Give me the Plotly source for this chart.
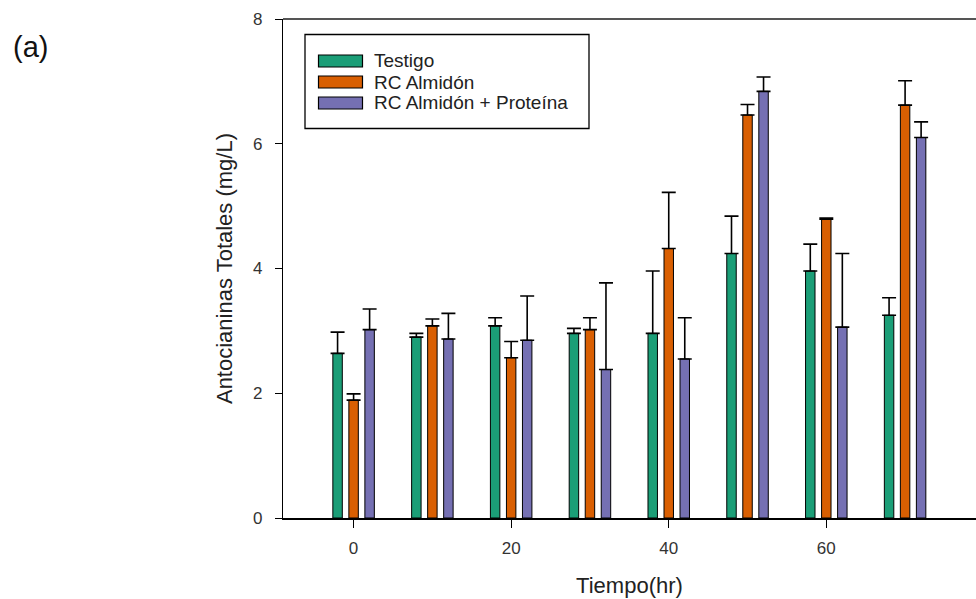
import plotly.graph_objects as go

tiempo = [0, 10, 20, 30, 40, 50, 60, 70]
testigo = [2.64, 2.90, 3.08, 2.96, 2.96, 4.24, 3.96, 3.25]
testigo_err = [0.34, 0.06, 0.13, 0.08, 1.00, 0.60, 0.43, 0.28]
almidon = [1.89, 3.08, 2.57, 3.02, 4.32, 6.46, 4.79, 6.62]
almidon_err = [0.10, 0.11, 0.26, 0.19, 0.90, 0.17, 0.02, 0.39]
proteina = [3.02, 2.87, 2.85, 2.38, 2.55, 6.84, 3.06, 6.10]
proteina_err = [0.33, 0.41, 0.71, 1.39, 0.66, 0.23, 1.18, 0.25]
x_ticks = [0, 20, 40, 60]
y_ticks = [0, 2, 4, 6, 8]

series = [
    ("Testigo", testigo, testigo_err, "#1b9e77"),
    ("RC Almidón", almidon, almidon_err, "#d95f02"),
    ("RC Almidón + Proteína", proteina, proteina_err, "#7570b3"),
]

W, H = 976, 599
L, T, B, R = 283, 19, 81, 0
PW, PH = W - L - R, H - T - B


def px(xp):
    return (xp - L) / PW


def py(yp):
    return 1 - (yp - T) / PH


fig = go.Figure()
for name, vals, errs, col in series:
    fig.add_trace(go.Bar(
        x=tiempo, y=vals, name=name,
        marker=dict(color=col, line=dict(color="black", width=1)),
        error_y=dict(type="data", symmetric=False, array=errs,
                     arrayminus=[0] * len(errs), color="black",
                     thickness=1.6, width=7),
    ))

font_family = "Liberation Sans, Arial, sans-serif"

# manual legend (box, swatches, labels)
shapes = [dict(type="line", xref="paper", yref="paper", x0=0, x1=1, y0=1, y1=1,
               line=dict(color="#555", width=2)),
          dict(type="rect", xref="paper", yref="paper",
               x0=px(305), x1=px(589), y0=py(34.5), y1=py(128.5),
               line=dict(color="black", width=1.3), fillcolor="white", layer="above")]
annotations = []
row_y = [61, 82, 103]
for (name, _, _, col), ry in zip(series, row_y):
    shapes.append(dict(type="rect", xref="paper", yref="paper",
                       x0=px(318.5), x1=px(362.5), y0=py(ry - 6), y1=py(ry + 6),
                       line=dict(color="black", width=1.2), fillcolor=col, layer="above"))
    annotations.append(dict(text=name, xref="paper", yref="paper", x=px(372), y=py(ry),
                            xanchor="left", yanchor="middle", showarrow=False,
                            font=dict(size=19, color="#222", family=font_family)))

annotations.append(dict(text="(a)", xref="paper", yref="paper", x=px(11), y=py(47),
                        xanchor="left", yanchor="middle", showarrow=False,
                        font=dict(size=29, color="#111", family=font_family)))

fig.update_layout(
    width=W, height=H,
    margin=dict(l=L, r=R, t=T, b=B),
    paper_bgcolor="white", plot_bgcolor="white",
    barmode="group", bargap=0.39, bargroupgap=0.41,
    font=dict(family=font_family, color="#222"),
    showlegend=False,
    xaxis=dict(
        range=[-8.96, 79.0], tickvals=x_ticks,
        showline=True, linecolor="black", linewidth=1.5,
        ticks="outside", ticklen=8, tickwidth=1.3, tickcolor="black",
        ticklabelstandoff=6,
        showgrid=False, zeroline=False,
        tickfont=dict(size=17, color="#333"),
        title=dict(text="Tiempo(hr)", font=dict(size=22, color="#222"), standoff=20),
    ),
    yaxis=dict(
        range=[0, 8], tickvals=y_ticks,
        showline=True, linecolor="black", linewidth=1.3,
        ticks="outside", ticklen=7, tickwidth=1.3, tickcolor="black",
        ticklabelstandoff=9,
        showgrid=False, zeroline=False,
        tickfont=dict(size=17, color="#333"),
        title=dict(text="Antocianinas Totales (mg/L)", font=dict(size=22, color="#222"), standoff=14),
    ),
    shapes=shapes,
    annotations=annotations,
)

fig.write_html("out.html")
